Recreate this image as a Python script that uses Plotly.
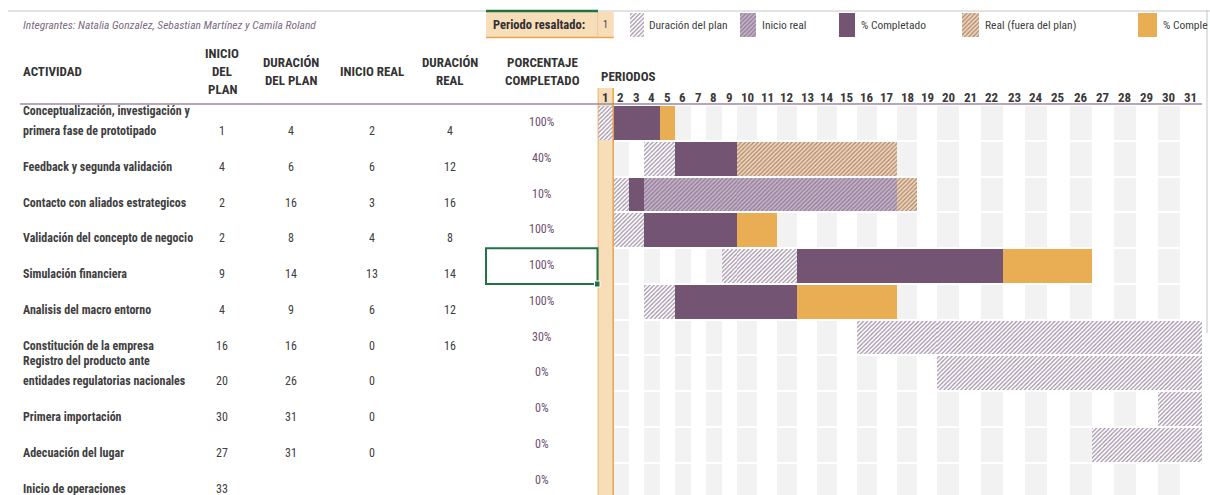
import math
import plotly.graph_objects as go

W, H = 1210, 495

# ---------------- data ----------------
activities = [
    "Conceptualización, investigación y<br>primera fase de prototipado",
    "Feedback y segunda validación",
    "Contacto con aliados estrategicos",
    "Validación del concepto de negocio",
    "Simulación financiera",
    "Analisis del macro entorno",
    "Constitución de la empresa",
    "Registro del producto ante<br>entidades regulatorias nacionales",
    "Primera importación",
    "Adecuación del lugar",
    "Inicio de operaciones",
]
plan_start = [1, 4, 2, 2, 9, 4, 16, 20, 30, 27, 33]
plan_dur = [4, 6, 16, 8, 14, 9, 16, 26, 31, 31, None]
actual_start = [2, 6, 3, 4, 13, 6, 0, 0, 0, 0, None]
actual_dur = [4, 12, 16, 8, 14, 12, 16, None, None, None, None]
pct_complete = [100, 40, 10, 100, 100, 100, 30, 0, 0, 0, 0]
periods = list(range(1, 32))
highlight_period = 1

title_text = "Integrantes: Natalia Gonzalez, Sebastian Martínez y Camila Roland"
# last legend label is cut by the window edge in the sheet
legend_labels = ["Duración del plan", "Inicio real", "% Completado",
                 "Real (fuera del plan)", "% Comple"]

# ---------------- style ----------------
NARROW = "Roboto Condensed, Open Sans Condensed, DejaVu Sans Condensed, sans-serif"
DARK = "#404040"
PURPLE = "#735573"
ORANGE = "#E9AD53"
PEACH = "#F8DDB9"
ORANGE_LINE = "#E8A54B"
GREEN = "#217346"

STYLES = {
    "plan": dict(color="#FFFFFF", pattern=dict(shape="/", fgcolor="#A08EA5", bgcolor="#FFFFFF",
                                               size=3, solidity=0.4, fillmode="replace")),
    "real": dict(color="#C4B4C7", pattern=dict(shape="/", fgcolor="#907896", bgcolor="#C4B4C7",
                                               size=3, solidity=0.4, fillmode="replace")),
    "comp": dict(color=PURPLE),
    "real_out": dict(color="#F5D6A8", pattern=dict(shape="/", fgcolor="#A3868A", bgcolor="#F5D6A8",
                                                   size=3, solidity=0.4, fillmode="replace")),
    "comp_out": dict(color=ORANGE),
}
LEGEND_KEYS = ["plan", "real", "comp", "real_out", "comp_out"]


def px(x):
    return x / W


def py(y):
    return 1 - y / H


# row geometry: row centre pixel = 123 + 35.75*i ; plot area from y=104 to bottom
ROW0, PITCH, TOP = 123.0, 35.75, 104.0
y_range = [(H - ROW0) / PITCH, (TOP - ROW0) / PITCH]
y_dom = [0, (H - TOP) / H]

# three period blocks with different column widths (as in the sheet)
XAXES = [("x", [0.5, 9.5], [597.7, 737.0]),
         ("x2", [9.5, 19.5], [737.0, 937.0]),
         ("x3", [19.5, 31.5], [937.0, 1202.0])]


def axis_for(p):
    for name, rng, _ in XAXES:
        if rng[0] < p < rng[1]:
            return name
    return "x3"


def state(i, p):
    ps, pd = plan_start[i], plan_dur[i]
    a_s, ad = actual_start[i], actual_dur[i]
    in_plan = pd is not None and ps <= p < ps + pd
    has_act = bool(a_s) and bool(ad)
    in_act = has_act and a_s <= p < a_s + ad
    done = has_act and a_s <= p < a_s + math.floor(ad * pct_complete[i] / 100)
    if done:
        return "comp" if in_plan else "comp_out"
    if in_act:
        return "real" if in_plan else "real_out"
    if in_plan:
        return "plan"
    return None


# build runs per state
runs = {k: dict(y=[], base=[], x=[]) for k in LEGEND_KEYS}
for i in range(len(activities)):
    cur, start = None, None
    for p in periods + [periods[-1] + 1]:
        s = state(i, p) if p <= periods[-1] else None
        if s != cur:
            if cur is not None:
                runs[cur]["y"].append(i)
                runs[cur]["base"].append(start - 0.5)
                runs[cur]["x"].append(p - start)
            cur, start = s, p

fig = go.Figure()

# background striped cells (even periods grey)
bg = dict(y=[], base=[], x=[])
for i in range(len(activities)):
    for p in periods:
        if p % 2 == 0:
            bg["y"].append(i)
            bg["base"].append(p - 0.5)
            bg["x"].append(1)

for ax, _, _ in XAXES:
    fig.add_trace(go.Bar(orientation="h", y=bg["y"], base=bg["base"], x=bg["x"], width=0.95,
                         marker=dict(color="#F2F2F2", line=dict(width=0)),
                         xaxis=ax, yaxis="y", hoverinfo="skip", showlegend=False))
    for k in LEGEND_KEYS:
        r = runs[k]
        if not r["y"]:
            continue
        fig.add_trace(go.Bar(orientation="h", y=r["y"], base=r["base"], x=r["x"], width=0.95,
                             marker=dict(**STYLES[k], line=dict(width=0)),
                             xaxis=ax, yaxis="y", hoverinfo="skip", showlegend=False))

# legend swatches (pixel axis x4/y4)
sw_x = [(630, 644), (740, 756), (839, 855), (962, 979), (1138, 1157)]
txt_x = [647, 760, 859, 983, 1161]
for k, (a, b) in zip(LEGEND_KEYS, sw_x):
    fig.add_trace(go.Bar(orientation="h", y=[25], base=[a], x=[b - a], width=[24],
                         marker=dict(**STYLES[k], line=dict(width=0)),
                         xaxis="x4", yaxis="y4", hoverinfo="skip", showlegend=False))

ann = []


def text(x, y, t, size=12, color=DARK, bold=False, italic=False, xanchor="left",
         xref="paper", yref="paper", yshift=0):
    ann.append(dict(x=x, y=y, xref=xref, yref=yref, text=t, showarrow=False,
                    xanchor=xanchor, yanchor="middle", yshift=yshift,
                    font=dict(family=NARROW, size=size, color=color,
                              weight=700 if bold else 400,
                              style="italic" if italic else "normal")))


# title row
text(px(21), py(25), title_text, size=11.5, color="#7D6A84", italic=True)
text(px(491), py(25), "Periodo resaltado:", size=12.5, color="#303030", bold=True)
text(px(605.5), py(25), str(highlight_period), size=10, color=DARK, xanchor="center")
for lab, tx in zip(legend_labels, txt_x):
    text(px(tx), py(25), lab, size=11.5, color=DARK)

# headers
HDR = 13
text(px(21), py(71), "ACTIVIDAD", size=HDR, color="#333333", bold=True)
for lines, xc, ys in [(["INICIO", "DEL", "PLAN"], 222, [53, 71, 89]),
                      (["DURACIÓN", "DEL PLAN"], 291, [62, 80]),
                      (["INICIO REAL"], 372, [71]),
                      (["DURACIÓN", "REAL"], 450, [62, 80]),
                      (["PORCENTAJE", "COMPLETADO"], 542, [62, 80])]:
    for ln, yy in zip(lines, ys):
        text(px(xc), py(yy), ln, size=HDR, color="#333333", bold=True, xanchor="center")
text(px(599), py(76), "PERIODOS", size=HDR, color="#333333", bold=True)
for p in periods:
    text(p, py(97), str(p), size=13, color="#3A3A3A", bold=True, xanchor="center",
         xref=axis_for(p))

# table body
cols = [(222, plan_start), (291, plan_dur), (372, actual_start), (450, actual_dur)]
for i, name in enumerate(activities):
    parts = name.split("<br>")
    if len(parts) == 2:
        text(px(21), i, parts[0], size=12, color=DARK, bold=True, yref="y", yshift=12)
        text(px(21), i, parts[1], size=12, color=DARK, bold=True, yref="y", yshift=-8)
    else:
        text(px(21), i, name, size=12, color=DARK, bold=True, yref="y", yshift=-8)
    for xc, arr in cols:
        if arr[i] is not None:
            text(px(xc), i, str(arr[i]), size=12, color=DARK, xanchor="center", yref="y", yshift=-8)
    text(px(542), i, f"{pct_complete[i]}%", size=12, color="#6E4F70", xanchor="center",
         yref="y", yshift=1)

shapes = [
    # excel column header border
    dict(type="line", xref="paper", yref="paper", x0=px(8), x1=1, y0=py(11), y1=py(11),
         line=dict(color="#C6C6C6", width=1)),
    dict(type="line", xref="paper", yref="paper", x0=px(1207), x1=px(1207), y0=py(10), y1=py(333),
         line=dict(color="#C6C6C6", width=1)),
    # periodo resaltado box
    dict(type="rect", xref="paper", yref="paper", x0=px(486), x1=px(613.7), y0=py(12), y1=py(37.5),
         fillcolor=PEACH, line=dict(width=0), layer="below"),
    dict(type="line", xref="paper", yref="paper", x0=px(486), x1=px(613.7), y0=py(37.5), y1=py(37.5),
         line=dict(color=ORANGE_LINE, width=1.5)),
    dict(type="line", xref="paper", yref="paper", x0=px(597.7), x1=px(597.7), y0=py(12), y1=py(37.5),
         line=dict(color="#E6C9A0", width=1)),
    dict(type="line", xref="paper", yref="paper", x0=px(486), x1=px(598), y0=py(11), y1=py(11),
         line=dict(color=GREEN, width=2.5)),
    # highlighted period column
    dict(type="rect", xref="x", yref="paper", x0=highlight_period - 0.5, x1=highlight_period + 0.5,
         y0=py(88), y1=0, fillcolor=PEACH, line=dict(width=0), layer="below"),
    dict(type="line", xref="x", yref="paper", x0=highlight_period - 0.5, x1=highlight_period - 0.5,
         y0=py(88), y1=0, line=dict(color=ORANGE_LINE, width=1.5)),
    dict(type="line", xref="x", yref="paper", x0=highlight_period + 0.5, x1=highlight_period + 0.5,
         y0=py(88), y1=0, line=dict(color=ORANGE_LINE, width=1.5)),
    # header rule
    dict(type="line", xref="paper", yref="paper", x0=px(20), x1=px(1202), y0=py(104), y1=py(104),
         line=dict(color="#9D8AA1", width=1.5)),
    # selected cell
    dict(type="rect", xref="paper", yref="y", x0=px(486), x1=px(597.5), y0=3.5, y1=4.5,
         line=dict(color=GREEN, width=2), fillcolor="rgba(0,0,0,0)"),
    dict(type="rect", xref="paper", yref="paper", x0=px(594.5), x1=px(600), y0=py(281), y1=py(287),
         line=dict(color="#FFFFFF", width=1), fillcolor=GREEN),
]

layout = dict(
    width=W, height=H, autosize=False,
    margin=dict(l=0, r=0, t=0, b=0, pad=0),
    paper_bgcolor="#FFFFFF", plot_bgcolor="rgba(0,0,0,0)",
    barmode="overlay", bargap=0, showlegend=False,
    annotations=ann, shapes=shapes,
    yaxis=dict(domain=y_dom, range=y_range, visible=False, fixedrange=True),
    xaxis4=dict(domain=[0, 1], range=[0, W], visible=False, anchor="y4"),
    yaxis4=dict(domain=[0, 1], range=[H, 0], visible=False, anchor="x4"),
)
for n, (name, rng, dom) in enumerate(XAXES):
    key = "xaxis" if name == "x" else "xaxis" + name[1:]
    colw = (dom[1] - dom[0]) / (rng[1] - rng[0])
    ext = 1.5 if n < len(XAXES) - 1 else 0.0   # overlap neighbours slightly to hide seams
    layout[key] = dict(domain=[px(dom[0]), px(dom[1] + ext)], range=[rng[0], rng[1] + ext / colw],
                       visible=False, anchor="y", fixedrange=True)

fig.update_layout(**layout)
fig.write_html("out.html", config={"displayModeBar": False},
               post_script="document.body.style.margin='0';")
